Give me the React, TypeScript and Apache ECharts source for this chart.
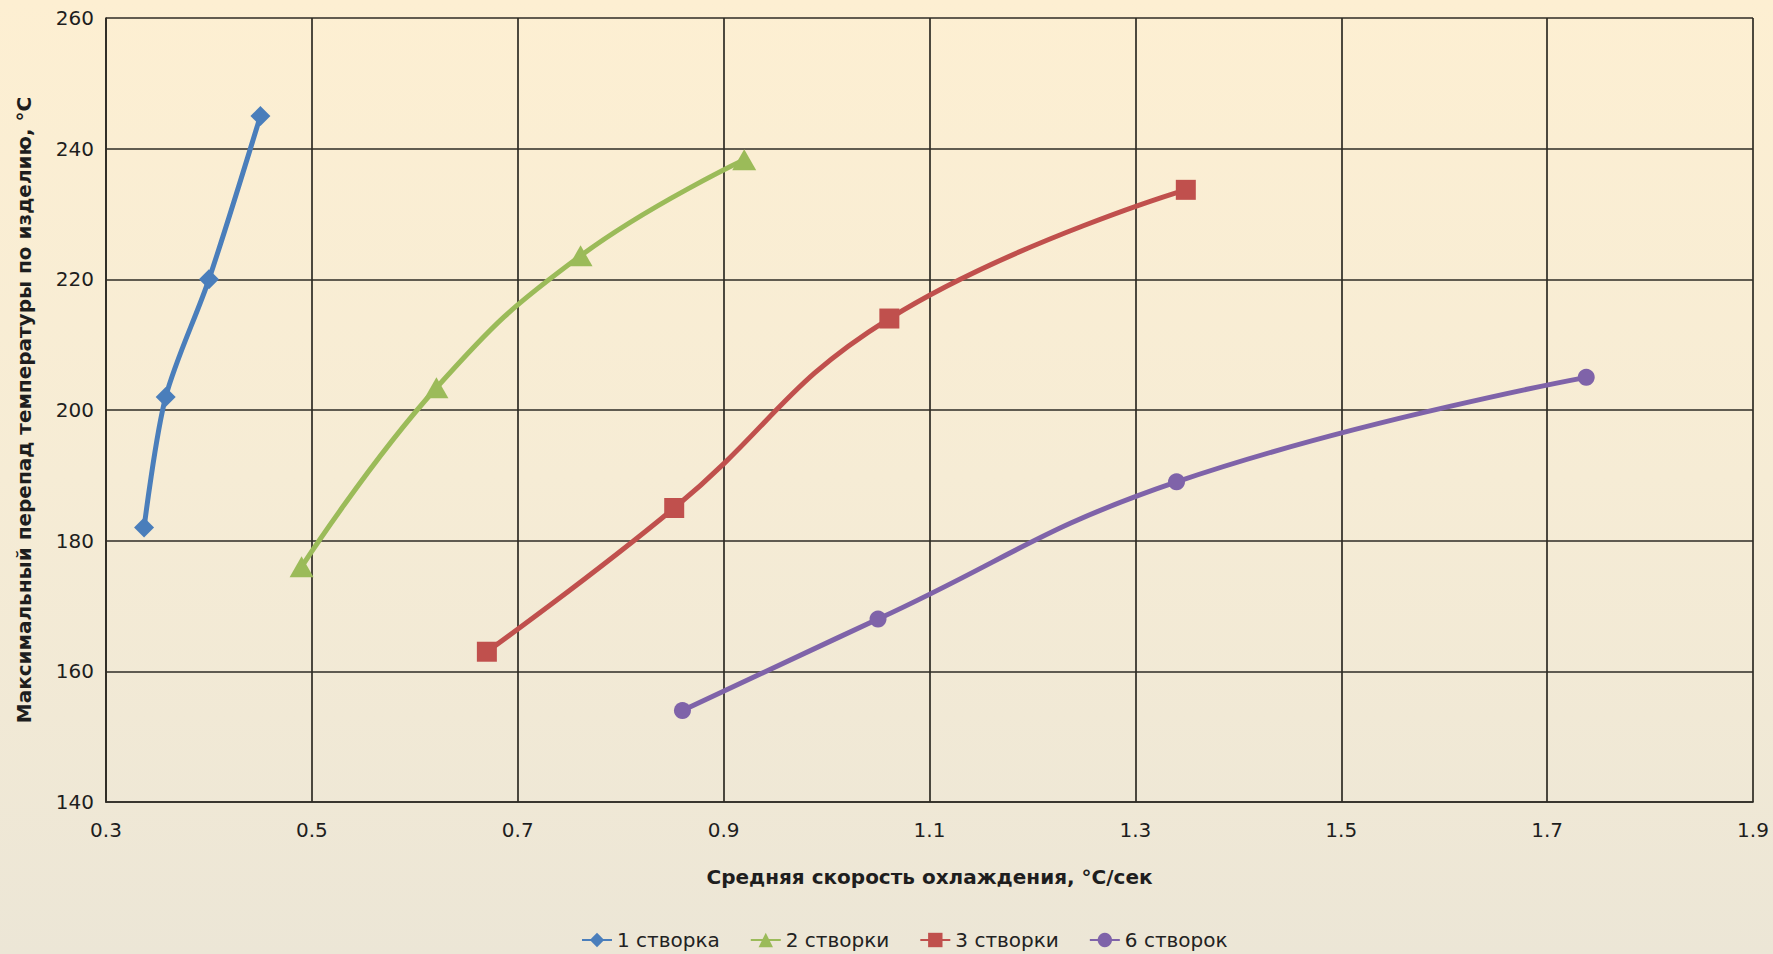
import React, { useEffect, useRef } from "react";
import * as echarts from "echarts";

// Средняя скорость охлаждения (°C/сек) и максимальный перепад температуры (°C)
const xOne = [0.337, 0.358, 0.4, 0.45];
const yOne = [182, 202, 220, 245];

const xTwo = [0.49, 0.621, 0.761, 0.92];
const yTwo = [176, 203.4, 223.6, 238.3];

const xThree = [0.67, 0.852, 1.061, 1.349];
const yThree = [163, 185, 214, 233.7];

const xSix = [0.86, 1.05, 1.34, 1.738];
const ySix = [154, 168, 189, 205];

const seriesNames = ["1 створка", "2 створки", "3 створки", "6 створок"];
const seriesColors = ["#4a7ebb", "#9bbb59", "#c0504d", "#7f63a9"];
const seriesSymbols = ["diamond", "triangle", "rect", "circle"];
const seriesSymbolSizes: (number | number[])[] = [[20, 20], [24, 21], [20, 20], [17, 17]];
const seriesSmooth = [0.3, 0.45, 0.45, 0.45];

const xTitle = "Средняя скорость охлаждения, °C/сек";
const yTitle = "Максимальный перепад температуры по изделию, °C";

const pairs = (xs: number[], ys: number[]) => xs.map((x, i) => [x, ys[i]]);
const seriesData = [pairs(xOne, yOne), pairs(xTwo, yTwo), pairs(xThree, yThree), pairs(xSix, ySix)];

const FONT = "DejaVu Sans";

export default function App() {
  const ref = useRef<HTMLDivElement>(null);

  useEffect(() => {
    document.body.style.margin = "0";
    if (!ref.current) return;
    const chart = echarts.init(ref.current, null, { renderer: "svg" });
    const gridLine = { show: true, lineStyle: { color: "#2e2b24", width: 1.7 } };
    chart.setOption({
      animation: false,
      backgroundColor: "transparent",
      textStyle: { fontFamily: FONT },
      grid: { left: 106, top: 18, right: 20, bottom: 152, containLabel: false },
      legend: {
        data: seriesNames,
        left: 576,
        top: 925,
        itemWidth: 30,
        itemHeight: 18,
        itemGap: 30,
        textStyle: { fontFamily: FONT, fontSize: 20, color: "#222" },
      },
      xAxis: {
        type: "value",
        min: 0.3,
        max: 1.9,
        interval: 0.2,
        name: xTitle,
        nameLocation: "middle",
        nameGap: 65,
        nameTextStyle: { fontFamily: FONT, fontSize: 20, fontWeight: "bold", color: "#1e1e1e" },
        axisLine: { show: true, lineStyle: { color: "#2e2b24", width: 1.7 } },
        axisTick: { show: false },
        axisLabel: {
          fontSize: 20,
          color: "#1e1e1e",
          margin: 18,
          formatter: (v: number) => String(Math.round(v * 10) / 10),
        },
        splitLine: gridLine,
      },
      yAxis: {
        type: "value",
        min: 140,
        max: 260,
        interval: 20,
        name: yTitle,
        nameLocation: "middle",
        nameGap: 72,
        nameTextStyle: { fontFamily: FONT, fontSize: 20, fontWeight: "bold", color: "#1e1e1e" },
        axisLine: { show: true, lineStyle: { color: "#2e2b24", width: 1.7 } },
        axisTick: { show: false },
        axisLabel: { fontSize: 20, color: "#1e1e1e", margin: 12 },
        splitLine: gridLine,
      },
      series: seriesNames.map((name, i) => ({
        name,
        type: "line",
        data: seriesData[i],
        smooth: seriesSmooth[i],
        symbol: seriesSymbols[i],
        symbolSize: seriesSymbolSizes[i],
        showAllSymbol: true,
        lineStyle: { color: seriesColors[i], width: 5 },
        itemStyle: { color: seriesColors[i], borderWidth: 0 },
        emphasis: { disabled: true },
        z: 3 + i,
      })),
    });
    return () => chart.dispose();
  }, []);

  return (
    <div
      ref={ref}
      style={{
        width: 1773,
        height: 954,
        background: "linear-gradient(to bottom, #fdefd2 0%, #f6ecd5 50%, #ece6d6 100%)",
      }}
    />
  );
}
